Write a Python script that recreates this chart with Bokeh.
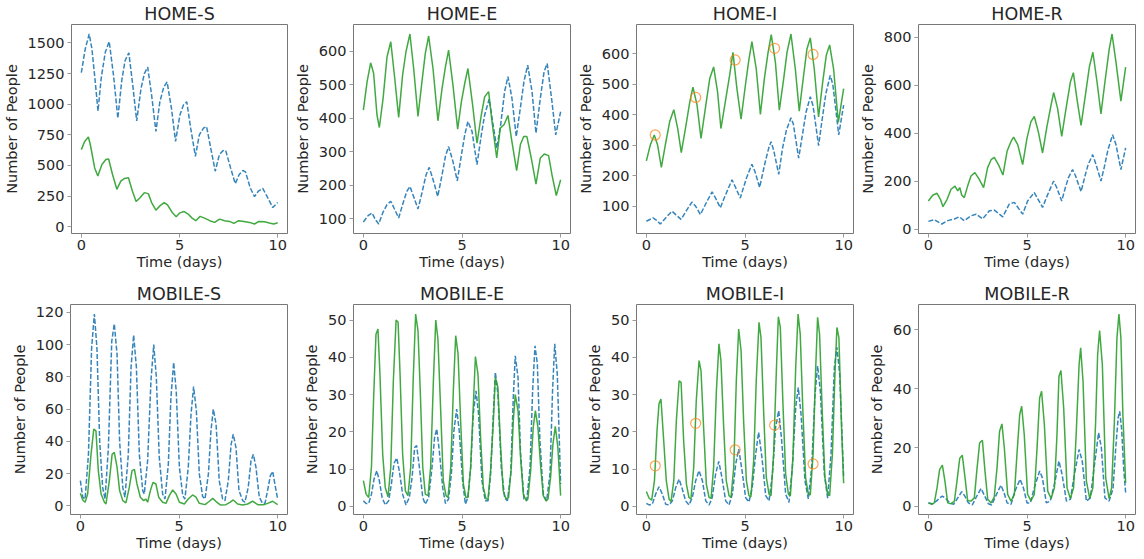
from bokeh.plotting import figure
from bokeh.layouts import column, row
from bokeh.models import FixedTicker, Range1d
from bokeh.embed import file_html
from bokeh.resources import INLINE

# ---------------------------------------------------------------------------
# Simulated compartment counts (time in days, number of people).
# "base" = dashed blue scenario, "alt" = solid green scenario.
# ---------------------------------------------------------------------------

home_s_base = [(0, 1257), (0.2, 1451), (0.4, 1573), (0.54, 1451), (0.71, 1182), (0.85, 944),
               (1.01, 1209), (1.22, 1424), (1.42, 1511), (1.64, 1236), (1.86, 885), (2.06, 1195),
               (2.23, 1357), (2.42, 1419), (2.62, 1155), (2.82, 863), (3.04, 1128), (3.21, 1249),
               (3.38, 1303), (3.58, 1074), (3.8, 777), (4.0, 1020), (4.2, 1141), (4.37, 1181),
               (4.59, 966), (4.8, 696), (5.02, 912), (5.2, 993), (5.37, 1020), (5.57, 804),
               (5.81, 575), (6.01, 750), (6.22, 804), (6.38, 817), (6.59, 642), (6.82, 453),
               (7.03, 588), (7.21, 620), (7.35, 623), (7.6, 480), (7.84, 351), (8.04, 426),
               (8.23, 459), (8.36, 448), (8.6, 318), (8.82, 245), (9.02, 291), (9.24, 313),
               (9.49, 237), (9.75, 156), (10, 197)]
home_s_alt = [(0, 629), (0.17, 696), (0.36, 732), (0.46, 669), (0.68, 480), (0.84, 413),
              (1.05, 507), (1.25, 548), (1.39, 553), (1.59, 426), (1.81, 305), (2.01, 372),
              (2.2, 394), (2.4, 399), (2.6, 291), (2.79, 205), (2.99, 237), (3.21, 278),
              (3.41, 270), (3.58, 197), (3.8, 135), (4.0, 170), (4.22, 197), (4.39, 178),
              (4.63, 116), (4.83, 81), (5.02, 113), (5.24, 124), (5.44, 103), (5.64, 70),
              (5.83, 49), (6.05, 84), (6.28, 70), (6.54, 49), (6.79, 35), (7.04, 62),
              (7.3, 49), (7.55, 43), (7.77, 27), (8.01, 49), (8.28, 43), (8.56, 35),
              (8.82, 22), (9.04, 43), (9.32, 40), (9.58, 30), (9.8, 22), (10, 32)]

home_e_base = [(0, 90), (0.24, 109), (0.44, 117), (0.61, 97), (0.78, 84), (0.98, 117), (1.2, 142),
               (1.39, 152), (1.59, 127), (1.79, 102), (1.99, 142), (2.2, 181), (2.36, 196),
               (2.57, 162), (2.77, 129), (2.97, 177), (3.18, 231), (3.34, 253), (3.56, 211),
               (3.77, 166), (3.99, 231), (4.16, 286), (4.32, 315), (4.54, 271), (4.76, 213),
               (4.97, 290), (5.14, 350), (5.3, 390), (5.51, 360), (5.76, 261), (5.98, 350),
               (6.15, 410), (6.38, 457), (6.55, 390), (6.76, 310), (6.96, 380), (7.16, 479),
               (7.33, 524), (7.53, 460), (7.75, 345), (7.96, 431), (8.14, 509), (8.33, 558),
               (8.55, 479), (8.75, 355), (8.97, 459), (9.16, 538), (9.32, 563), (9.56, 449),
               (9.75, 350), (10, 419)]
home_e_alt = [(0, 424), (0.19, 509), (0.37, 565), (0.52, 534), (0.69, 410), (0.81, 372),
              (1.0, 459), (1.2, 583), (1.39, 628), (1.59, 519), (1.79, 402), (1.99, 529),
              (2.16, 598), (2.36, 651), (2.55, 548), (2.77, 405), (2.97, 509), (3.14, 593),
              (3.31, 645), (3.53, 548), (3.78, 392), (3.99, 489), (4.16, 553), (4.32, 603),
              (4.54, 499), (4.78, 367), (4.97, 449), (5.14, 504), (5.3, 548), (5.54, 439),
              (5.76, 325), (5.98, 410), (6.15, 464), (6.35, 479), (6.52, 390), (6.76, 281),
              (6.94, 370), (7.13, 380), (7.33, 408), (7.53, 330), (7.77, 243), (7.96, 321),
              (8.13, 345), (8.29, 345), (8.51, 281), (8.75, 203), (8.97, 281), (9.17, 293),
              (9.39, 288), (9.56, 231), (9.78, 169), (10, 216)]

home_i_base = [(0, 51), (0.34, 62), (0.5, 55), (0.71, 42), (1.05, 67), (1.3, 84), (1.5, 72),
               (1.76, 57), (2.06, 89), (2.31, 114), (2.5, 100), (2.74, 73), (3.07, 116),
               (3.33, 147), (3.5, 128), (3.75, 95), (3.9, 120), (4.05, 143), (4.34, 187),
               (4.5, 165), (4.76, 127), (5.07, 192), (5.35, 238), (5.5, 215), (5.74, 162),
               (6.03, 247), (6.2, 290), (6.32, 312), (6.45, 285), (6.71, 205), (6.9, 290),
               (7.1, 350), (7.33, 390), (7.45, 370), (7.72, 258), (7.9, 330), (8.1, 410),
               (8.31, 459), (8.45, 430), (8.73, 299), (8.9, 380), (9.1, 470), (9.32, 529),
               (9.45, 500), (9.6, 420), (9.75, 334), (10, 432)]
home_i_alt = [(0, 249), (0.2, 301), (0.4, 334), (0.57, 301), (0.76, 228), (0.96, 301),
              (1.18, 377), (1.39, 417), (1.59, 355), (1.77, 276), (1.98, 355), (2.2, 442),
              (2.36, 491), (2.57, 432), (2.77, 323), (2.99, 421), (3.21, 518), (3.41, 557),
              (3.61, 475), (3.78, 355), (4.0, 442), (4.22, 529), (4.39, 605), (4.59, 486),
              (4.8, 386), (5.02, 497), (5.19, 578), (5.35, 640), (5.57, 551), (5.78, 401),
              (5.98, 518), (6.17, 605), (6.33, 663), (6.54, 573), (6.74, 415), (6.96, 518),
              (7.13, 605), (7.33, 665), (7.55, 551), (7.75, 412), (7.97, 529), (8.14, 616),
              (8.31, 652), (8.51, 551), (8.73, 393), (8.94, 508), (9.12, 595), (9.29, 629),
              (9.49, 551), (9.73, 375), (10, 486)]
home_i_obs = [(0.45, 334), (2.5, 457), (4.5, 580), (6.5, 618), (8.45, 598)]

home_r_base = [(0, 33), (0.3, 40), (0.68, 22), (0.98, 36), (1.32, 43), (1.57, 52), (1.82, 36),
               (2.16, 56), (2.42, 63), (2.75, 43), (3.09, 77), (3.34, 80), (3.77, 52),
               (4.1, 105), (4.36, 112), (4.78, 63), (5.03, 118), (5.37, 153), (5.79, 91),
               (6.0, 135), (6.13, 160), (6.35, 201), (6.5, 175), (6.76, 118), (6.95, 175),
               (7.1, 215), (7.31, 249), (7.45, 225), (7.74, 157), (7.95, 225), (8.1, 270),
               (8.33, 311), (8.5, 270), (8.75, 201), (8.92, 260), (9.1, 330), (9.34, 394),
               (9.51, 353), (9.76, 249), (10, 339)]
home_r_alt = [(0, 118), (0.22, 142), (0.44, 150), (0.61, 125), (0.74, 94), (0.95, 125),
              (1.15, 167), (1.35, 180), (1.49, 160), (1.59, 174), (1.69, 143), (1.82, 132),
              (1.99, 180), (2.16, 222), (2.36, 236), (2.58, 208), (2.8, 174), (3.0, 256),
              (3.18, 290), (3.34, 300), (3.55, 270), (3.78, 226), (3.99, 325), (4.19, 366),
              (4.32, 384), (4.53, 353), (4.78, 270), (5.0, 380), (5.2, 449), (5.37, 470),
              (5.57, 408), (5.79, 318), (6.01, 428), (6.22, 518), (6.35, 570), (6.55, 504),
              (6.76, 387), (6.98, 504), (7.2, 614), (7.35, 653), (7.53, 545), (7.74, 433),
              (7.96, 559), (8.16, 676), (8.34, 738), (8.55, 614), (8.75, 481), (8.95, 614),
              (9.17, 752), (9.31, 814), (9.51, 697), (9.76, 534), (10, 676)]

mobile_s_base = [(0, 15.7), (0.12, 5.4), (0.24, 4.3), (0.41, 32), (0.57, 98), (0.71, 119),
                 (0.84, 98), (0.98, 40), (1.13, 11.5), (1.25, 4.3), (1.42, 36), (1.59, 102),
                 (1.72, 113), (1.86, 94), (1.99, 40), (2.15, 11.5), (2.26, 5.4), (2.43, 32),
                 (2.57, 86), (2.7, 106), (2.84, 86), (2.99, 32), (3.16, 9.5), (3.24, 7.4),
                 (3.41, 28), (3.58, 78), (3.72, 100), (3.85, 80), (4.0, 30), (4.17, 7.4),
                 (4.29, 4.3), (4.46, 26), (4.59, 67), (4.73, 89), (4.86, 71), (5.02, 24),
                 (5.19, 6.4), (5.3, 4.3), (5.47, 24), (5.61, 57), (5.74, 74), (5.88, 59),
                 (6.03, 19.8), (6.2, 5.8), (6.32, 4.3), (6.49, 19.8), (6.62, 46.6), (6.74, 60),
                 (6.88, 50.7), (7.04, 15.7), (7.21, 4.3), (7.33, 3.3), (7.5, 15.7), (7.64, 38),
                 (7.75, 44.5), (7.89, 36), (8.04, 9.5), (8.23, 3.3), (8.34, 2.3), (8.51, 11.5),
                 (8.65, 28), (8.77, 32), (8.9, 24), (9.07, 5.4), (9.24, 1.6), (9.36, 1.6),
                 (9.49, 9.5), (9.63, 18.8), (9.75, 21.4), (9.86, 13.6), (10, 4.3)]
mobile_s_alt = [(0, 7.8), (0.12, 3.7), (0.24, 2.3), (0.37, 7.4), (0.54, 32), (0.68, 47.6),
                (0.79, 46.6), (0.91, 21.9), (1.05, 7.4), (1.22, 2.3), (1.3, 1.2), (1.47, 15.7),
                (1.61, 32), (1.72, 33.2), (1.86, 24), (1.99, 9.5), (2.15, 3.3), (2.31, 1.9),
                (2.48, 11.5), (2.62, 21.9), (2.74, 22.7), (2.87, 13.6), (3.04, 5.4), (3.21, 3.3),
                (3.31, 4.3), (3.41, 2.3), (3.55, 9.5), (3.68, 14.6), (3.83, 13.6), (3.97, 5.4),
                (4.17, 2.3), (4.34, 1.6), (4.51, 6.4), (4.68, 9.9), (4.85, 7.4), (5.02, 2.3),
                (5.27, 1.2), (5.47, 4.3), (5.69, 6.8), (5.86, 5.4), (6.03, 1.6), (6.32, 0.8),
                (6.54, 2.9), (6.71, 4.7), (6.88, 2.7), (7.09, 0.6), (7.38, 0.8), (7.6, 2.3),
                (7.75, 3.7), (7.97, 1.2), (8.23, 0.6), (8.48, 1.2), (8.73, 2.9), (8.99, 0.8),
                (9.32, 0.8), (9.49, 1.6), (9.75, 2.9), (10, 0.8)]

mobile_e_base = [(0, 1.5), (0.14, 0.8), (0.27, 0.8), (0.41, 3.3), (0.54, 7.3), (0.68, 9.6),
                 (0.81, 6.9), (0.95, 2.4), (1.11, 0.4), (1.28, 1.5), (1.42, 6), (1.55, 11.5),
                 (1.69, 13), (1.82, 9.6), (1.99, 3.3), (2.16, 0.4), (2.33, 2.4), (2.47, 7.8),
                 (2.6, 15.8), (2.7, 16.3), (2.84, 10.5), (3.01, 2.4), (3.14, 0.6), (3.31, 2.4),
                 (3.48, 10.5), (3.61, 18.5), (3.72, 20.8), (3.85, 14.9), (4.02, 5.1), (4.16, 0.8),
                 (4.32, 2), (4.46, 8.7), (4.59, 20.3), (4.73, 26.1), (4.86, 20.3), (5.03, 6.9),
                 (5.17, 0.6), (5.3, 2.4), (5.44, 10.5), (5.57, 24.8), (5.71, 31), (5.84, 24.8),
                 (6.01, 6.9), (6.18, 1.5), (6.32, 1.5), (6.45, 8.7), (6.59, 24.8), (6.69, 36),
                 (6.82, 30.1), (6.99, 10.5), (7.16, 2.4), (7.3, 1.5), (7.47, 8.7), (7.6, 29.2),
                 (7.7, 40.4), (7.84, 34.6), (7.97, 14), (8.14, 2), (8.28, 1.5), (8.45, 10.5),
                 (8.58, 31), (8.7, 43.1), (8.82, 38.2), (8.95, 17.6), (9.12, 3.3), (9.29, 1.5),
                 (9.46, 8.7), (9.59, 31), (9.7, 43.6), (9.83, 35.5), (10, 6)]
mobile_e_alt = [(0, 6.9), (0.14, 3.3), (0.27, 2.4), (0.41, 10.5), (0.52, 29), (0.64, 46.2),
                (0.74, 47.6), (0.84, 35.5), (0.98, 14), (1.11, 5.1), (1.25, 2.6), (1.39, 10.5),
                (1.52, 33.7), (1.66, 50), (1.76, 49.4), (1.86, 35.5), (1.99, 14), (2.13, 4.2),
                (2.26, 2.9), (2.4, 10.5), (2.53, 34.6), (2.65, 51.6), (2.77, 47.1), (2.89, 30.1),
                (3.01, 10.5), (3.14, 3.3), (3.28, 2.9), (3.41, 10.5), (3.55, 33.7), (3.67, 50),
                (3.78, 44.9), (3.92, 25.7), (4.05, 6.9), (4.19, 2.9), (4.29, 2.4), (4.43, 10.5),
                (4.56, 31), (4.68, 45.8), (4.8, 40.9), (4.93, 23), (5.07, 6), (5.2, 2.4),
                (5.3, 2.4), (5.44, 10.5), (5.57, 26.6), (5.68, 40.2), (5.81, 35.5), (5.95, 17.6),
                (6.08, 5.1), (6.22, 2), (6.32, 2), (6.45, 9.6), (6.59, 23), (6.69, 34.6),
                (6.82, 31.9), (6.96, 15.8), (7.09, 4.2), (7.23, 2), (7.36, 2.4), (7.5, 10.5),
                (7.6, 23), (7.7, 30), (7.84, 25.7), (7.97, 13.1), (8.11, 3.3), (8.24, 1.7),
                (8.34, 2), (8.48, 9.6), (8.61, 21.2), (8.72, 25.7), (8.85, 21.2), (8.99, 10.5),
                (9.12, 2.9), (9.26, 1.5), (9.36, 2), (9.49, 7.8), (9.61, 16.7), (9.73, 21.5),
                (9.86, 15.8), (10, 2.9)]

mobile_i_base = [(0, 0.8), (0.14, 0.4), (0.3, 0.6), (0.47, 3.3), (0.64, 5.3), (0.81, 3.3),
                 (0.98, 0.6), (1.15, 0.4), (1.32, 1.5), (1.49, 5.1), (1.66, 7.3), (1.82, 4.7),
                 (1.99, 1.5), (2.16, 0.4), (2.33, 2.4), (2.5, 6.9), (2.67, 9.6), (2.84, 6.9),
                 (3.01, 1.5), (3.18, 0.4), (3.34, 2.4), (3.51, 8.7), (3.67, 12.1), (3.83, 7.8),
                 (4.02, 1.5), (4.19, 0.4), (4.36, 3.3), (4.53, 11.4), (4.68, 15.4), (4.85, 9.6),
                 (5.03, 2.4), (5.2, 1.2), (5.37, 5.1), (5.54, 14), (5.69, 19.9), (5.86, 13.1),
                 (6.05, 2.9), (6.22, 1.5), (6.39, 8.7), (6.55, 21.2), (6.71, 25.7), (6.86, 17.6),
                 (7.06, 3.3), (7.23, 1.1), (7.4, 10.5), (7.57, 26.6), (7.7, 31.9), (7.84, 24.8),
                 (8.04, 6.9), (8.21, 2), (8.38, 10.5), (8.55, 30.1), (8.68, 37.7), (8.82, 31),
                 (9.02, 8.7), (9.19, 2.2), (9.36, 14), (9.53, 37.3), (9.66, 42.7), (9.8, 35.5),
                 (10, 7.8)]
mobile_i_alt = [(0, 4), (0.14, 2.2), (0.27, 1.7), (0.41, 6.9), (0.54, 20.3), (0.64, 27.5),
                (0.74, 28.8), (0.88, 17.6), (1.01, 6.9), (1.15, 2), (1.25, 1.3), (1.39, 6.9),
                (1.52, 23), (1.66, 33.7), (1.76, 33.3), (1.89, 17.6), (2.03, 6), (2.16, 2.4),
                (2.26, 2), (2.4, 10.5), (2.53, 28.4), (2.67, 39.1), (2.77, 36.4), (2.91, 20.3),
                (3.04, 6), (3.18, 2.4), (3.28, 2.2), (3.41, 10.5), (3.55, 31), (3.68, 43.6),
                (3.78, 39.1), (3.92, 21.2), (4.05, 6.9), (4.19, 2.9), (4.29, 2.4), (4.43, 10.5),
                (4.56, 33.7), (4.68, 47.6), (4.8, 41.8), (4.93, 23), (5.07, 6.9), (5.2, 2.9),
                (5.3, 2.6), (5.44, 12.3), (5.57, 33.7), (5.71, 49.4), (5.81, 45.3), (5.95, 24.8),
                (6.08, 7.8), (6.22, 3.3), (6.32, 2.9), (6.45, 14), (6.59, 36.4), (6.69, 50.9),
                (6.79, 48), (6.93, 26.6), (7.06, 8.7), (7.2, 3.3), (7.3, 2.9), (7.43, 13.1),
                (7.57, 37.3), (7.69, 51.6), (7.8, 46.2), (7.94, 24.8), (8.07, 7.8), (8.21, 3.3),
                (8.31, 3.1), (8.45, 14), (8.58, 36.4), (8.68, 50.7), (8.78, 46.2), (8.92, 24.8),
                (9.05, 7.8), (9.19, 3.3), (9.29, 2.9), (9.43, 14), (9.56, 35.5), (9.66, 48),
                (9.76, 45.3), (9.9, 20.3), (10, 6.2)]
mobile_i_obs = [(0.45, 10.9), (2.5, 22.3), (4.5, 15.2), (6.5, 21.8), (8.45, 11.4)]

mobile_r_base = [(0, 1.2), (0.2, 0.9), (0.41, 1.8), (0.57, 2.9), (0.71, 3.5), (0.88, 2.7),
                 (1.08, 1.2), (1.28, 0.7), (1.49, 2.9), (1.69, 5), (1.85, 3.5), (2.03, 1.2),
                 (2.23, 0.5), (2.43, 3.2), (2.67, 6.1), (2.86, 3.5), (3.04, 0.9), (3.21, 0.5),
                 (3.41, 3.5), (3.68, 7.2), (3.84, 4.6), (3.99, 1.2), (4.19, 0.7), (4.39, 5.2),
                 (4.65, 9.2), (4.82, 6.3), (5.0, 1.2), (5.17, 1.2), (5.37, 6.3), (5.64, 12),
                 (5.78, 9.7), (5.98, 1.2), (6.18, 1.8), (6.39, 7.5), (6.62, 15.4), (6.78, 10.8),
                 (7.0, 1.8), (7.2, 2.4), (7.4, 10.8), (7.64, 19.3), (7.8, 15.4), (8.01, 1.8),
                 (8.21, 2.9), (8.4, 13.1), (8.63, 25), (8.77, 19.9), (8.95, 2.9), (9.16, 1.8),
                 (9.36, 6), (9.5, 20), (9.62, 30), (9.7, 32.3), (9.8, 26), (9.9, 13), (10, 4.6)]
mobile_r_alt = [(0, 1.2), (0.17, 0.7), (0.3, 1.2), (0.44, 6.3), (0.57, 12.5), (0.71, 14),
                (0.84, 8.6), (0.98, 1.2), (1.15, 0.9), (1.32, 1.8), (1.45, 8.6), (1.59, 16.3),
                (1.72, 17.4), (1.86, 9.7), (1.99, 2), (2.16, 1.8), (2.33, 2.9), (2.47, 13.1),
                (2.6, 21.6), (2.74, 22.4), (2.87, 12), (3.01, 2.4), (3.18, 1.2), (3.34, 3.2),
                (3.48, 13.1), (3.61, 25.5), (3.73, 28), (3.85, 19.9), (4.02, 4.1), (4.19, 1.8),
                (4.36, 4.1), (4.49, 17.6), (4.63, 31.2), (4.73, 34), (4.86, 24.4), (5.03, 4.1),
                (5.2, 2), (5.37, 4.1), (5.51, 19.9), (5.64, 36.8), (5.74, 39.1), (5.88, 27.8),
                (6.05, 5.2), (6.22, 2.7), (6.39, 6.3), (6.52, 24.4), (6.62, 44.2), (6.72, 46.1),
                (6.86, 33.4), (7.03, 6.3), (7.2, 2.7), (7.36, 6.3), (7.5, 25.5), (7.64, 48.1),
                (7.72, 53.8), (7.84, 42.5), (8.01, 8.6), (8.18, 2.7), (8.34, 6.3), (8.48, 28.9),
                (8.58, 51.5), (8.68, 59.7), (8.82, 48.1), (8.99, 9.7), (9.16, 2.7), (9.29, 6.3),
                (9.43, 28.9), (9.56, 57.2), (9.66, 65.3), (9.76, 57.2), (9.86, 31.2), (10, 8)]

# Tick values
x_ticks = [0, 5, 10]
home_s_ticks = [0, 250, 500, 750, 1000, 1250, 1500]
home_e_ticks = [100, 200, 300, 400, 500, 600]
home_i_ticks = [100, 200, 300, 400, 500, 600]
home_r_ticks = [0, 200, 400, 600, 800]
mobile_s_ticks = [0, 20, 40, 60, 80, 100, 120]
mobile_e_ticks = [0, 10, 20, 30, 40, 50]
mobile_i_ticks = [0, 10, 20, 30, 40, 50]
mobile_r_ticks = [0, 20, 40, 60]

FONT = "DejaVu Sans"
TEXT = "#262626"
BLUE = "#1f77b4"
GREEN = "#2ca02c"
ORANGE = "#ff7f0e"

# per-column (figure width, left border, right border)
COLS = [(290, 70, 3), (283, 63, 3), (283, 63, 3), (288, 62, 9)]
# per-row (figure height, top border, bottom border)
ROWS = [(280, 23, 47), (279, 24, 45)]


def split(pairs):
    return [p[0] for p in pairs], [p[1] for p in pairs]


def panel(title, base, alt, obs, yticks, col, rw):
    w, bl, br = COLS[col]
    h, bt, bb = ROWS[rw]
    vals = [v for _, v in base] + [v for _, v in alt] + ([v for _, v in obs] if obs else [])
    lo, hi = min(vals), max(vals)
    pad = 0.05 * (hi - lo)
    p = figure(width=w, height=h, output_backend="svg", toolbar_location=None,
               x_range=Range1d(-0.5, 10.5), y_range=Range1d(lo - pad, hi + pad),
               min_border_left=bl, min_border_right=br,
               min_border_top=bt, min_border_bottom=bb)
    p.background_fill_color = "white"
    p.border_fill_color = "white"
    p.outline_line_color = "#777777"
    p.outline_line_width = 1
    p.grid.grid_line_color = None

    p.title.text = title
    p.title.align = "center"
    p.title.text_font = FONT
    p.title.text_font_size = "17.5px"
    p.title.text_font_style = "normal"
    p.title.text_color = TEXT
    p.title.standoff = 2

    p.xaxis.ticker = FixedTicker(ticks=x_ticks)
    p.yaxis.ticker = FixedTicker(ticks=yticks)
    p.xaxis.axis_label = "Time (days)"
    p.yaxis.axis_label = "Number of People"
    for ax in (p.xaxis[0], p.yaxis[0]):
        ax.axis_line_color = None
        ax.major_tick_line_color = "#9a9a9a"
        ax.major_tick_in = 0
        ax.major_tick_out = 4
        ax.minor_tick_line_color = None
        ax.major_label_text_font = FONT
        ax.major_label_text_font_size = "14.5px"
        ax.major_label_text_color = TEXT
        ax.axis_label_text_font = FONT
        ax.axis_label_text_font_size = "14.5px"
        ax.axis_label_text_font_style = "normal"
        ax.axis_label_text_color = TEXT
    p.xaxis.major_label_standoff = 2
    p.xaxis.axis_label_standoff = 1
    p.yaxis.major_label_standoff = 3
    p.yaxis.axis_label_standoff = 5

    bt_, bv = split(base)
    at_, av = split(alt)
    p.line(bt_, bv, line_color=BLUE, line_width=1.5, line_alpha=0.9, line_dash="5 2")
    p.line(at_, av, line_color=GREEN, line_width=1.5, line_alpha=0.9)
    if obs:
        ot, ov = split(obs)
        p.scatter(ot, ov, marker="circle", size=10, fill_color=None,
                  line_color=ORANGE, line_alpha=0.7, line_width=1.2)
    return p


top = row(
    panel("HOME-S", home_s_base, home_s_alt, None, home_s_ticks, 0, 0),
    panel("HOME-E", home_e_base, home_e_alt, None, home_e_ticks, 1, 0),
    panel("HOME-I", home_i_base, home_i_alt, home_i_obs, home_i_ticks, 2, 0),
    panel("HOME-R", home_r_base, home_r_alt, None, home_r_ticks, 3, 0),
)
bottom = row(
    panel("MOBILE-S", mobile_s_base, mobile_s_alt, None, mobile_s_ticks, 0, 1),
    panel("MOBILE-E", mobile_e_base, mobile_e_alt, None, mobile_e_ticks, 1, 1),
    panel("MOBILE-I", mobile_i_base, mobile_i_alt, mobile_i_obs, mobile_i_ticks, 2, 1),
    panel("MOBILE-R", mobile_r_base, mobile_r_alt, None, mobile_r_ticks, 3, 1),
)
layout = column(top, bottom)

open("out.html", "w").write(file_html(layout, INLINE))
